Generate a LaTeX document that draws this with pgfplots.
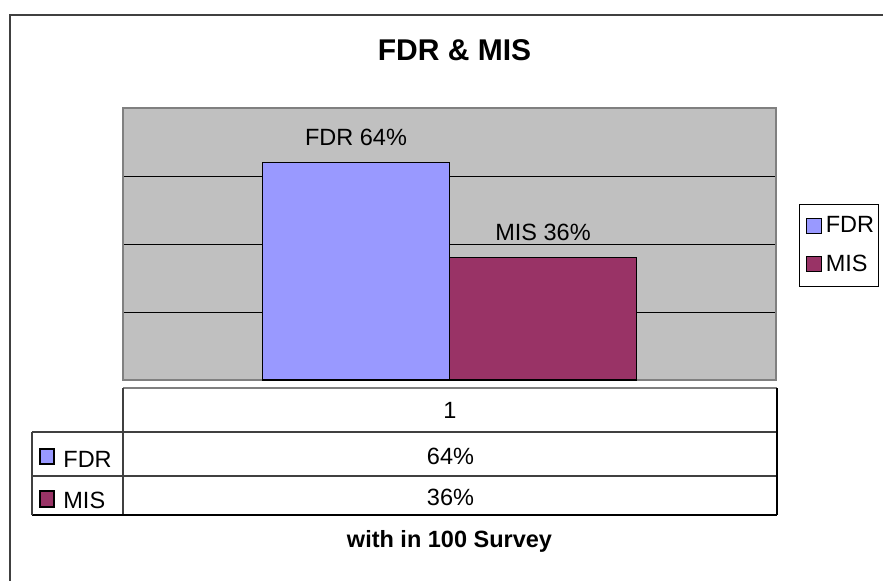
\documentclass[border=0pt]{standalone}
\usepackage{pgfplots}
\pgfplotsset{compat=1.18}
\usepackage{fontspec}
\setmainfont{Liberation Sans}
\definecolor{fdr}{HTML}{9999FF}
\definecolor{mis}{HTML}{993366}
\definecolor{plotbg}{HTML}{C0C0C0}
\definecolor{frame}{HTML}{404040}
\newcommand{\lbl}{\fontsize{11.75}{14}\selectfont}
\begin{document}
\begin{tikzpicture}[x=0.5pt,y=0.5pt]
\useasboundingbox (0,0) rectangle (883,580);
% outer chart frame
\draw[line width=1pt, frame] (10,-20) -- (10,565) -- (900,565);
\begin{axis}[
  at={(61.5pt,100pt)}, anchor=south west,
  scale only axis, width=326.5pt, height=136pt,
  xmin=0, xmax=1, ymin=0, ymax=80,
  ybar=0pt, bar width=93.5pt,
  /pgf/number format/assume math mode=true,
  axis background/.style={fill=plotbg},
  axis line style={draw=gray, line width=1pt},
  xtick=\empty, ytick={0,20,40,60,80}, yticklabels={},
  major tick length=0pt,
  ymajorgrids, grid style={black, line width=0.5pt},
  title={FDR \& MIS},
  title style={at={(axis description cs:0.5077,1.129)}, anchor=base, font=\fontsize{15}{18}\selectfont\bfseries},
  xlabel={with in 100 Survey},
  xlabel style={at={(axis description cs:0.5,-0.614)}, anchor=base, font=\lbl\bfseries},
  every node near coord/.append style={anchor=base, yshift=8.5pt, font=\lbl, black},
  legend image code/.code={\path (0pt,0pt); \draw[#1, draw=black, line width=0.6pt] (3pt,-3.75pt) rectangle (10.5pt,3.75pt);},
  legend style={at={(axis description cs:1.0352,0.647)}, anchor=north west, draw=black, line width=0.5pt,
    font=\lbl, inner xsep=0pt, inner ysep=5.5pt, row sep=8.5pt,
    nodes={inner xsep=2pt, inner ysep=0.5pt}},
  legend cell align=left,
]
\addplot[fill=fdr, draw=black, line width=0.75pt,
  nodes near coords={FDR \pgfmathprintnumber{\pgfplotspointmeta}\%}]
  coordinates {(0.5,64)};
\addplot[fill=mis, draw=black, line width=0.75pt,
  nodes near coords={MIS \pgfmathprintnumber{\pgfplotspointmeta}\%}]
  coordinates {(0.5,36)};
\legend{FDR, MIS}
\end{axis}
% data table
\draw[line width=0.6pt, gray] (123,192) -- (777,192);
\draw[line width=0.6pt, frame] (123,192) -- (123,65);
\draw[line width=0.6pt, frame] (32,148) -- (777,148);
\draw[line width=0.6pt, frame] (32,104) -- (777,104);
\draw[line width=0.6pt, black] (32,65) -- (777,65);
\draw[line width=0.6pt, frame] (32,65) -- (32,148);
\draw[line width=0.7pt, black] (777,65) -- (777,192);
\node[anchor=base, font=\lbl, inner sep=0pt] at (450,162) {1};
\node[anchor=base, font=\lbl, inner sep=0pt] at (450.5,116) {64\%};
\node[anchor=base, font=\lbl, inner sep=0pt] at (450.5,75) {36\%};
\draw[fill=fdr, draw=black, line width=0.6pt] (40,116) rectangle (54,131);
\node[anchor=base west, font=\lbl, inner sep=0pt] at (63,113) {FDR};
\draw[fill=mis, draw=black, line width=0.6pt] (40,73) rectangle (54,89);
\node[anchor=base west, font=\lbl, inner sep=0pt] at (63,72) {MIS};
\end{tikzpicture}
\end{document}
